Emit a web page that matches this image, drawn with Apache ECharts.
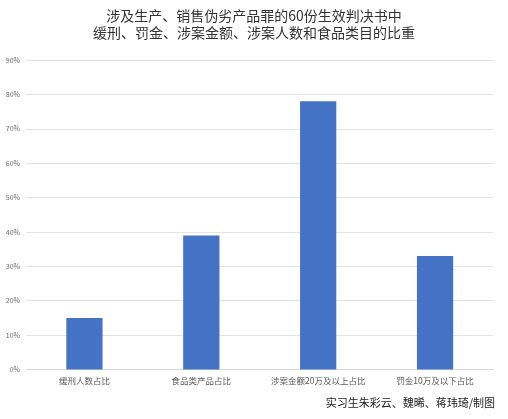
<!DOCTYPE html>
<html><head><meta charset="utf-8">
<script src="https://cdn.jsdelivr.net/npm/echarts@6/dist/echarts.min.js"></script>
<style>html,body{margin:0;padding:0;background:#fff}#c{width:508px;height:419px}</style>
</head><body><div id="c"></div>
<script>
const categories = ['缓刑人数占比', '食品类产品占比', '涉案金额20万及以上占比', '罚金10万及以下占比'];
const values = [15, 39, 78, 33];
const yTicks = [0, 10, 20, 30, 40, 50, 60, 70, 80, 90];
const titleText = '涉及生产、销售伪劣产品罪的60份生效判决书中\n缓刑、罚金、涉案金额、涉案人数和食品类目的比重';
const creditText = '实习生朱彩云、魏晞、蒋玮琦/制图';

const font = '"Noto Sans CJK SC", "Noto Sans", sans-serif';
const chart = echarts.init(document.getElementById('c'));
chart.setOption({
  backgroundColor: '#fff',
  animation: false,
  textStyle: { fontFamily: font },
  title: [{
    text: titleText, left: 'center', top: 2,
    textStyle: { fontSize: 14, fontWeight: 'normal', color: '#333', lineHeight: 17, fontFamily: font }
  }, {
    text: creditText, right: 8, top: 392,
    textStyle: { fontSize: 11, fontWeight: 'normal', color: '#222', fontFamily: font }
  }],
  grid: { left: 26, right: 14.5, top: 60, bottom: 49.5, containLabel: false },
  xAxis: {
    type: 'category', data: categories,
    axisLine: { lineStyle: { color: '#d9d9d9' } },
    axisTick: { show: false },
    axisLabel: { color: '#595959', fontSize: 8.5, margin: 7, fontFamily: font, interval: 0 }
  },
  yAxis: {
    type: 'value', min: yTicks[0], max: yTicks[yTicks.length - 1], interval: 10,
    axisLine: { show: false }, axisTick: { show: false },
    splitLine: { lineStyle: { color: '#e3e3e3' } },
    axisLabel: { color: '#6a6a6a', fontSize: 7, margin: 6, formatter: v => v + '%', fontFamily: font }
  },
  series: [{
    type: 'bar', data: values, barWidth: '31%',
    itemStyle: { color: '#4472C4' }
  }]
});
</script></body></html>
